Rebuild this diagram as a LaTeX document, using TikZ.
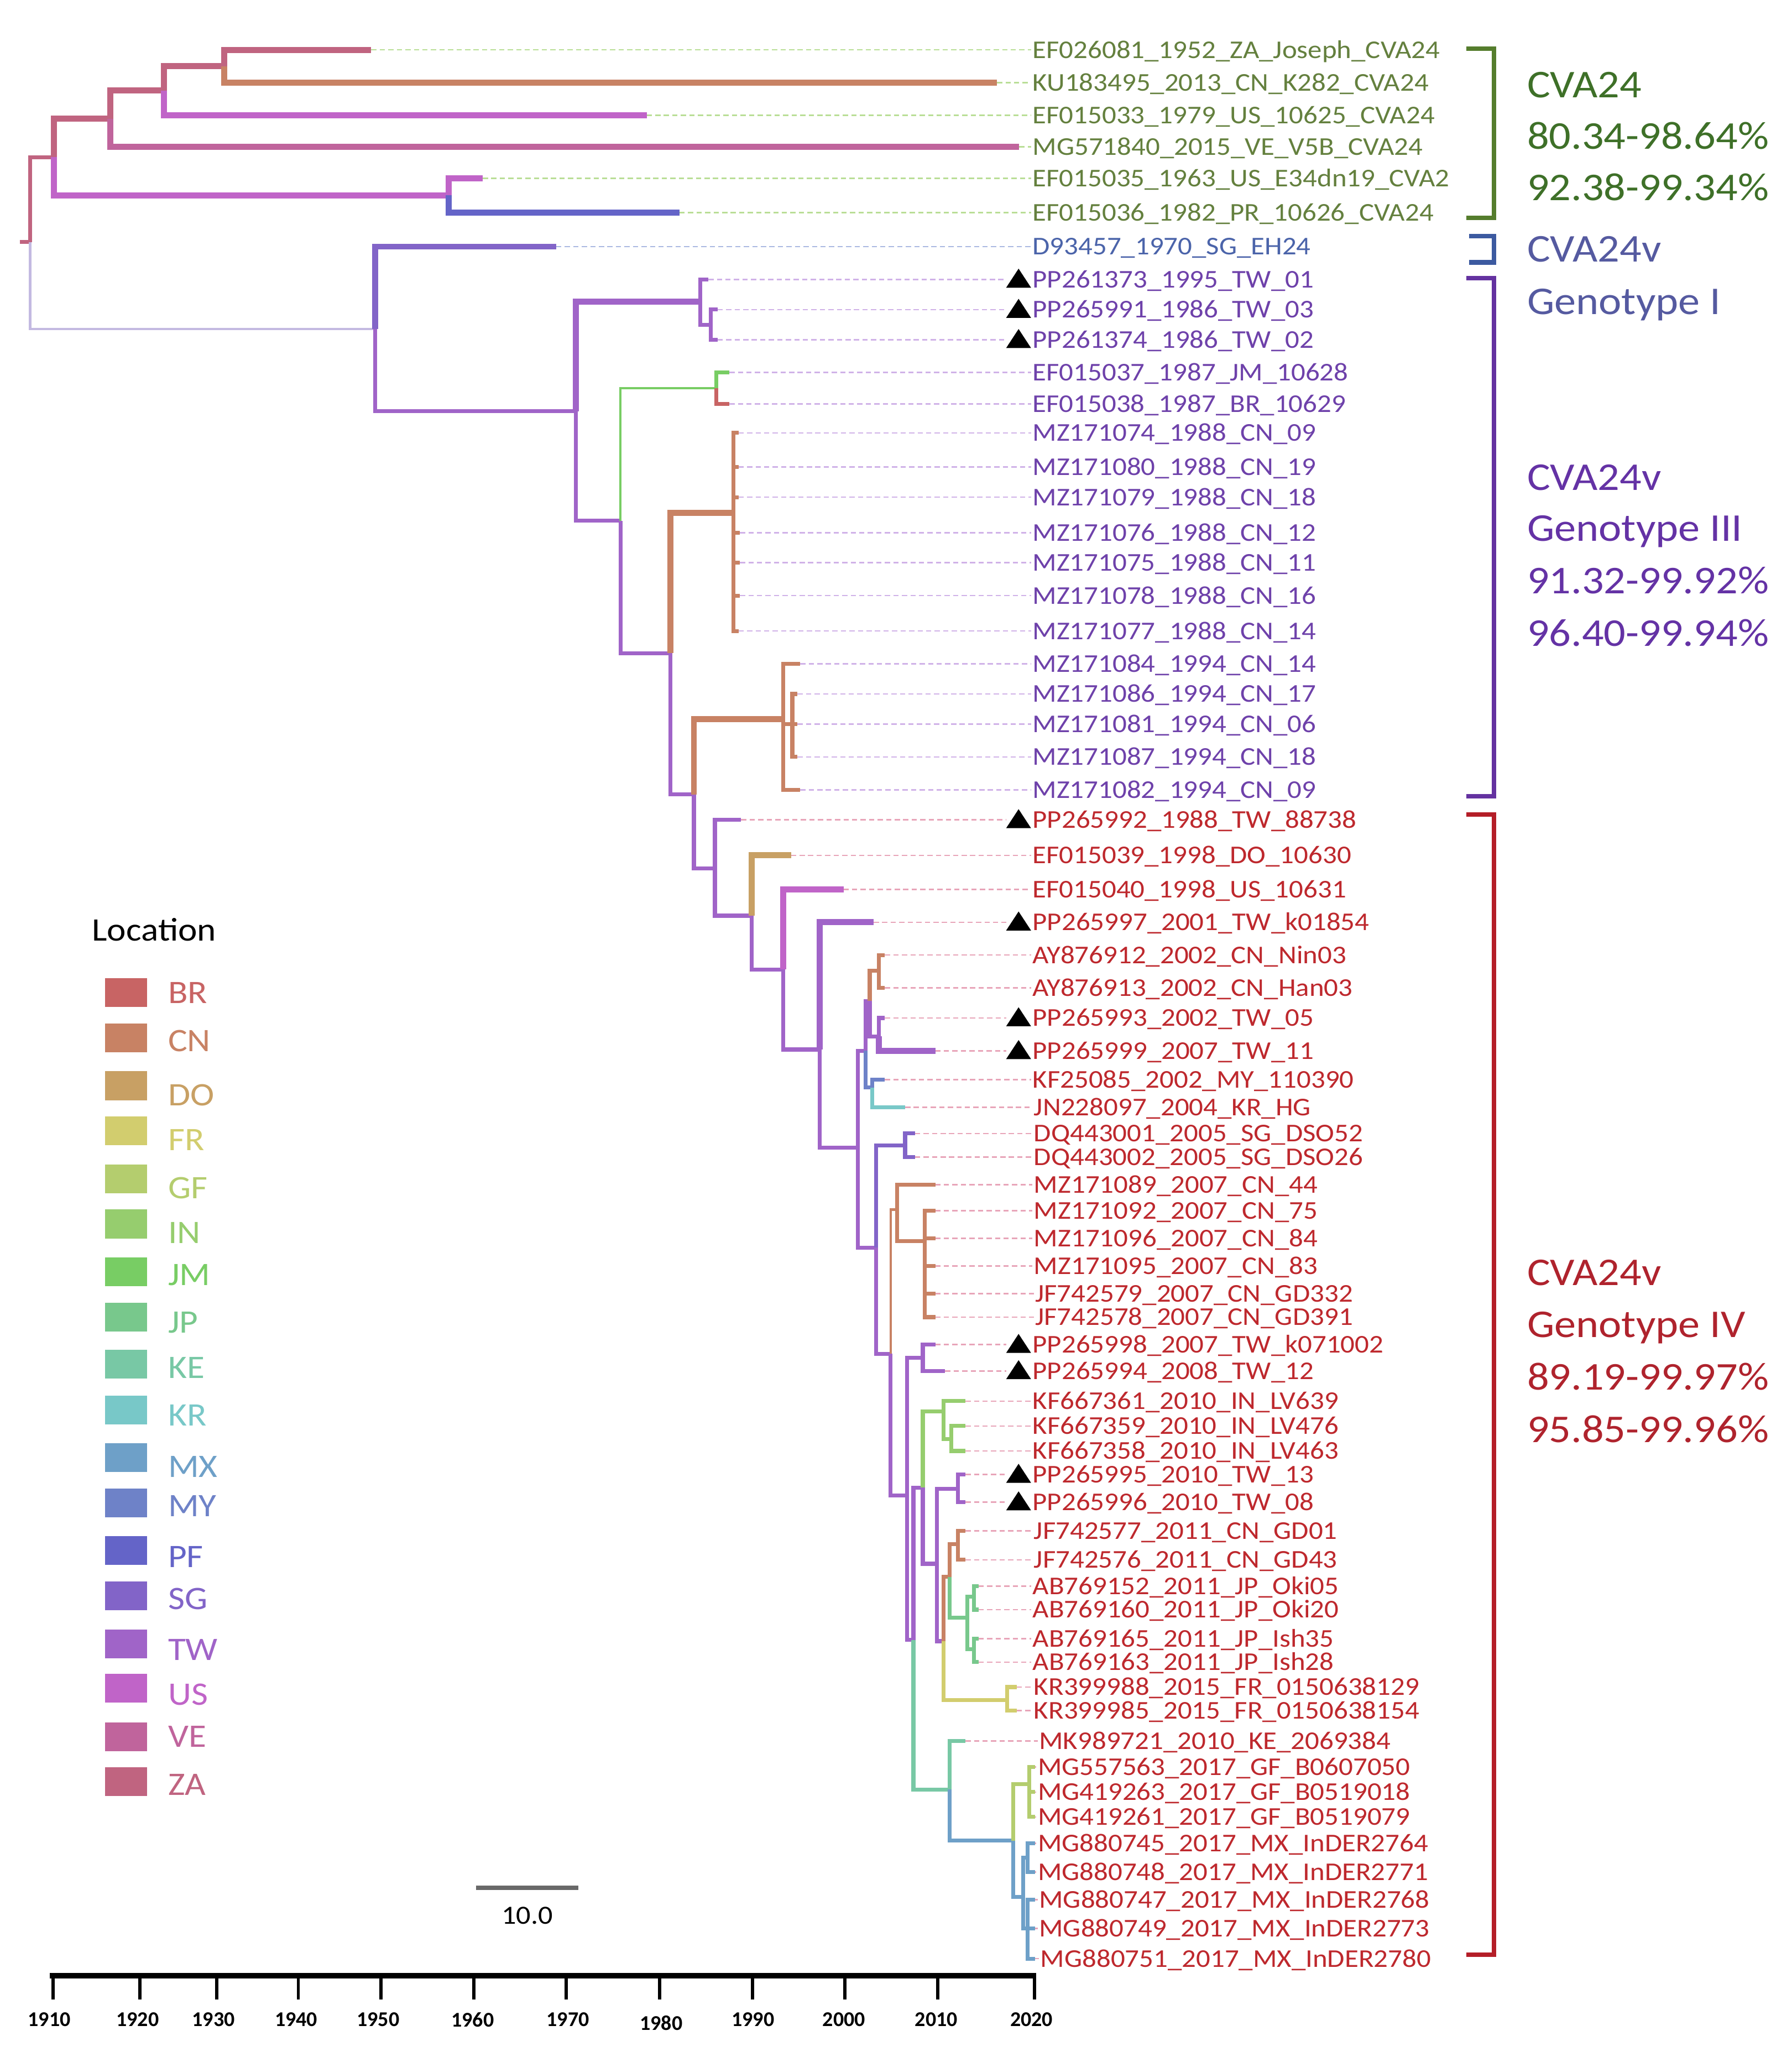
\documentclass[tikz,border=0pt]{standalone}
\usepackage{fontspec}
\setmainfont{Carlito}
\newfontfamily\lf[FakeStretch=1.1]{Carlito}
\newfontfamily\af{Carlito}
\definecolor{cBR}{RGB}{200,100,100}
\definecolor{cCN}{RGB}{200,130,100}
\definecolor{cDO}{RGB}{200,160,100}
\definecolor{cFR}{RGB}{210,205,110}
\definecolor{cGF}{RGB}{180,205,110}
\definecolor{cIN}{RGB}{150,205,110}
\definecolor{cJM}{RGB}{120,205,100}
\definecolor{cJP}{RGB}{120,200,140}
\definecolor{cKE}{RGB}{120,200,165}
\definecolor{cKR}{RGB}{120,200,200}
\definecolor{cMX}{RGB}{110,160,200}
\definecolor{cMY}{RGB}{110,130,200}
\definecolor{cPF}{RGB}{100,100,200}
\definecolor{cSG}{RGB}{130,100,200}
\definecolor{cTW}{RGB}{160,100,200}
\definecolor{cUS}{RGB}{192,100,200}
\definecolor{cVE}{RGB}{192,100,156}
\definecolor{cZA}{RGB}{192,100,128}
\definecolor{cRT}{RGB}{195,185,225}
\definecolor{labA}{RGB}{100,128,62}
\definecolor{labB}{RGB}{75,100,170}
\definecolor{labC}{RGB}{110,65,170}
\definecolor{labD}{RGB}{190,40,45}
\definecolor{leadA}{RGB}{185,222,150}
\definecolor{leadB}{RGB}{170,185,225}
\definecolor{leadC}{RGB}{208,178,232}
\definecolor{leadD}{RGB}{232,165,185}
\definecolor{grA}{RGB}{62,112,40}
\definecolor{grB}{RGB}{85,90,160}
\definecolor{grC}{RGB}{100,50,165}
\definecolor{grD}{RGB}{175,35,45}
\definecolor{bkA}{RGB}{85,125,45}
\definecolor{bkB}{RGB}{60,90,160}
\definecolor{bkC}{RGB}{100,50,160}
\definecolor{bkD}{RGB}{180,30,40}
\newcommand\edg[4][br]{\draw[#1,draw=#2] (#3) |- (#4);}
\begin{document}
\begin{tikzpicture}[x=1pt,y=-1pt,
  br/.style={line width=3pt},
  bk/.style={line width=4.6pt},
  bt/.style={line width=1.8pt},
  ld/.style={line width=1.1pt,dash pattern=on 4pt off 2.5pt},
  lbl/.style={font=\lf\fontsize{19.5}{22}\selectfont,inner sep=0pt,anchor=base west},
  grp/.style={font=\lf\fontsize{30}{34}\selectfont,inner sep=0pt,anchor=base west},
  leg/.style={font=\lf\fontsize{25}{28}\selectfont,inner sep=0pt,anchor=base west},
  ax/.style={font=\af\bfseries\fontsize{16}{18}\selectfont,inner sep=0pt},
  brk/.style={line width=3.5pt,line join=miter}]
\useasboundingbox (0,0) rectangle (1366,1568);
\fill[white] (0,0) rectangle (1366,1568);

% ---------- leaf labels, tips and leaders ----------
\foreach \i/\tx/\y/\g/\tri/\lx/\txt in {
1/283/38/A/0/787/EF026081\_1952\_ZA\_Joseph\_CVA24,
2/760/63/A/0/787/KU183495\_2013\_CN\_K282\_CVA24,
3/493/88/A/0/787/EF015033\_1979\_US\_10625\_CVA24,
4/777/112/A/0/787/MG571840\_2015\_VE\_V5B\_CVA24,
5/368/136/A/0/787/EF015035\_1963\_US\_E34dn19\_CVA2,
6/518/162/A/0/787/EF015036\_1982\_PR\_10626\_CVA24,
7/424/188/B/0/787/D93457\_1970\_SG\_EH24,
8/540/213/C/1/787/PP261373\_1995\_TW\_01,
9/547/236/C/1/787/PP265991\_1986\_TW\_03,
10/547/259/C/1/787/PP261374\_1986\_TW\_02,
11/556/284/C/0/787/EF015037\_1987\_JM\_10628,
12/556/308/C/0/787/EF015038\_1987\_BR\_10629,
13/563/330/C/0/787/MZ171074\_1988\_CN\_09,
14/563/356/C/0/787/MZ171080\_1988\_CN\_19,
15/563/379/C/0/787/MZ171079\_1988\_CN\_18,
16/564/406/C/0/787/MZ171076\_1988\_CN\_12,
17/564/429/C/0/787/MZ171075\_1988\_CN\_11,
18/564/454/C/0/787/MZ171078\_1988\_CN\_16,
19/563/481/C/0/787/MZ171077\_1988\_CN\_14,
20/610/506/C/0/787/MZ171084\_1994\_CN\_14,
21/608/529/C/0/787/MZ171086\_1994\_CN\_17,
22/608/552/C/0/787/MZ171081\_1994\_CN\_06,
23/608/577/C/0/787/MZ171087\_1994\_CN\_18,
24/610/602/C/0/787/MZ171082\_1994\_CN\_09,
25/565/625/D/1/787/PP265992\_1988\_TW\_88738,
26/603/652/D/0/787/EF015039\_1998\_DO\_10630,
27/643/678/D/0/787/EF015040\_1998\_US\_10631,
28/666/703/D/1/787/PP265997\_2001\_TW\_k01854,
29/674.5/728/D/0/787/AY876912\_2002\_CN\_Nin03,
30/674.5/753/D/0/787/AY876913\_2002\_CN\_Han03,
31/674.5/776/D/1/787/PP265993\_2002\_TW\_05,
32/713/801/D/1/787/PP265999\_2007\_TW\_11,
33/674.5/823/D/0/787/KF25085\_2002\_MY\_110390,
34/690/844/D/0/788/JN228097\_2004\_KR\_HG,
35/697.5/864/D/0/788/DQ443001\_2005\_SG\_DSO52,
36/697.5/882/D/0/788/DQ443002\_2005\_SG\_DSO26,
37/713/903/D/0/788/MZ171089\_2007\_CN\_44,
38/713/923/D/0/788/MZ171092\_2007\_CN\_75,
39/713/944/D/0/788/MZ171096\_2007\_CN\_84,
40/713/965/D/0/788/MZ171095\_2007\_CN\_83,
41/713/986/D/0/789/JF742579\_2007\_CN\_GD332,
42/713/1004/D/0/789/JF742578\_2007\_CN\_GD391,
43/713/1025/D/1/787/PP265998\_2007\_TW\_k071002,
44/720.5/1045/D/1/787/PP265994\_2008\_TW\_12,
45/736/1068/D/0/787/KF667361\_2010\_IN\_LV639,
46/736/1087/D/0/787/KF667359\_2010\_IN\_LV476,
47/736/1106/D/0/787/KF667358\_2010\_IN\_LV463,
48/736/1124/D/1/787/PP265995\_2010\_TW\_13,
49/736/1145/D/1/787/PP265996\_2010\_TW\_08,
50/736/1167/D/0/788/JF742577\_2011\_CN\_GD01,
51/736/1189/D/0/788/JF742576\_2011\_CN\_GD43,
52/746/1209/D/0/787/AB769152\_2011\_JP\_Oki05,
53/746/1227/D/0/787/AB769160\_2011\_JP\_Oki20,
54/746/1249/D/0/787/AB769165\_2011\_JP\_Ish35,
55/746/1267/D/0/787/AB769163\_2011\_JP\_Ish28,
56/775/1286/D/0/788/KR399988\_2015\_FR\_0150638129,
57/775/1304/D/0/788/KR399985\_2015\_FR\_0150638154,
58/736/1327/D/0/792/MK989721\_2010\_KE\_2069384,
59/789/1347/D/0/791/MG557563\_2017\_GF\_B0607050,
60/789/1366/D/0/791/MG419263\_2017\_GF\_B0519018,
61/789/1385/D/0/791/MG419261\_2017\_GF\_B0519079,
62/789/1405/D/0/791/MG880745\_2017\_MX\_InDER2764,
63/789/1427/D/0/791/MG880748\_2017\_MX\_InDER2771,
64/789/1448/D/0/792/MG880747\_2017\_MX\_InDER2768,
65/789/1470/D/0/792/MG880749\_2017\_MX\_InDER2773,
66/789/1493/D/0/793/MG880751\_2017\_MX\_InDER2780}
{
  \node[lbl,text=lab\g] (L\i) at (\lx,\y+6.3) {\txt};
  \coordinate (T\i) at (\tx,\y);
  \ifnum\tri=1
    \fill[black] (L\i.base west) ++(-1,0) -- ++(-19,0) -- ++(9.5,-14.5) -- cycle;
    \coordinate (E\i) at (\lx-20,\y);
  \else
    \coordinate (E\i) at (\lx-1,\y);
  \fi
  \draw[ld,draw=lead\g] (T\i) -- (E\i);
}

% ---------- internal nodes ----------
\coordinate (R0) at (15,184.5);
\coordinate (R) at (23,184.5);
\coordinate (N1) at (41,119.75);
\coordinate (N2) at (84,90.5);
\coordinate (N3) at (125,69);
\coordinate (N4) at (171,50.5);
\coordinate (N6) at (342,149);
\coordinate (N7) at (286,250.75);
\coordinate (N8) at (439,313.5);
\coordinate (G1) at (534,230);
\coordinate (G1b) at (542,247.5);
\coordinate (G3) at (473,397);
\coordinate (JB) at (546,296);
\coordinate (G4) at (511,498);
\coordinate (C88) at (559,391);
\coordinate (G5) at (529,605.5);
\coordinate (C94) at (597,548);
\coordinate (S94) at (604,552);
\coordinate (G6) at (545,662);
\coordinate (G7) at (573,698);
\coordinate (G8) at (597,739);
\coordinate (G9) at (625,800);
\coordinate (G10) at (654,875);
\coordinate (G11) at (660,801);
\coordinate (G12) at (663,763);
\coordinate (G12a) at (670,740);
\coordinate (G12b) at (670,790);
\coordinate (G13) at (665,829);
\coordinate (G14) at (668,951);
\coordinate (SGn) at (690,873);
\coordinate (G15) at (679,1032);
\coordinate (C07) at (684,922);
\coordinate (C07b) at (705,946);
\coordinate (G16) at (691.4,1140);
\coordinate (G17) at (703.5,1035);
\coordinate (G18) at (696.3,1250);
\coordinate (G19) at (703.5,1134);
\coordinate (INn) at (719.3,1076);
\coordinate (INb) at (725.3,1097);
\coordinate (G20) at (714.4,1192);
\coordinate (TW2) at (730.2,1135);
\coordinate (G21) at (719.3,1251);
\coordinate (FRn) at (767.7,1296);
\coordinate (G22) at (724.1,1202);
\coordinate (C11) at (730.2,1177);
\coordinate (JPn) at (737.4,1233);
\coordinate (JPa) at (742.3,1217);
\coordinate (JPb) at (742.3,1257);
\coordinate (GKE) at (724.1,1364);
\coordinate (G23) at (772.5,1403);
\coordinate (GFn) at (784.6,1360);
\coordinate (MXn) at (779.8,1446);
\coordinate (MXa) at (783.5,1416);
\coordinate (MXb) at (783.5,1470);

% ---------- branches ----------
\draw[br,draw=cZA] (R0) -- (R);
\edg{cZA}{R}{N1}
\edg[bt]{cRT}{R}{N7}
\edg[bk]{cZA}{N1}{N2}
\edg[bk]{cUS}{N1}{N6}
\edg[bk]{cZA}{N2}{N3}
\edg[bk]{cVE}{N2}{T4}
\edg[bk]{cZA}{N3}{N4}
\edg[bk]{cUS}{N3}{T3}
\edg[bk]{cZA}{N4}{T1}
\edg[bk]{cCN}{N4}{T2}
\edg[bk]{cUS}{N6}{T5}
\edg[bk]{cPF}{N6}{T6}
\edg[bk]{cSG}{N7}{T7}
\edg{cTW}{N7}{N8}
\edg[bk]{cTW}{N8}{G1}
\edg{cTW}{N8}{G3}
\edg{cTW}{G1}{T8}
\edg{cTW}{G1}{G1b}
\edg{cTW}{G1b}{T9}
\edg{cTW}{G1b}{T10}
\edg[bt]{cJM}{G3}{JB}
\edg{cTW}{G3}{G4}
\edg{cJM}{JB}{T11}
\edg{cBR}{JB}{T12}
\edg[bk]{cCN}{G4}{C88}
\edg{cTW}{G4}{G5}
\foreach \k in {13,...,19} {\edg{cCN}{C88}{T\k}}
\edg[bk]{cCN}{G5}{C94}
\edg{cTW}{G5}{G6}
\edg{cCN}{C94}{T20}
\edg{cCN}{C94}{S94}
\edg{cCN}{C94}{T24}
\foreach \k in {21,22,23} {\edg{cCN}{S94}{T\k}}
\edg{cTW}{G6}{T25}
\edg{cTW}{G6}{G7}
\edg[bk]{cDO}{G7}{T26}
\edg{cTW}{G7}{G8}
\edg[bk]{cUS}{G8}{T27}
\edg{cTW}{G8}{G9}
\edg[bk]{cTW}{G9}{T28}
\edg{cTW}{G9}{G10}
\edg{cTW}{G10}{G11}
\edg{cTW}{G10}{G14}
\edg{cTW}{G11}{G12}
\edg{cMY}{G11}{G13}
\edg{cCN}{G12}{G12a}
\edg{cTW}{G12}{G12b}
\edg{cCN}{G12a}{T29}
\edg{cCN}{G12a}{T30}
\edg{cTW}{G12b}{T31}
\edg[bk]{cTW}{G12b}{T32}
\edg{cMY}{G13}{T33}
\edg{cKR}{G13}{T34}
\edg{cSG}{G14}{SGn}
\edg{cTW}{G14}{G15}
\edg{cSG}{SGn}{T35}
\edg{cSG}{SGn}{T36}
\edg[bt]{cCN}{G15}{C07}
\edg{cTW}{G15}{G16}
\edg{cCN}{C07}{T37}
\edg{cCN}{C07}{C07b}
\foreach \k in {38,...,42} {\edg{cCN}{C07b}{T\k}}
\edg{cTW}{G16}{G17}
\edg{cTW}{G16}{G18}
\edg{cTW}{G17}{T43}
\edg{cTW}{G17}{T44}
\edg{cTW}{G18}{G19}
\edg{cKE}{G18}{GKE}
\edg{cIN}{G19}{INn}
\edg{cTW}{G19}{G20}
\edg{cIN}{INn}{T45}
\edg{cIN}{INn}{INb}
\edg{cIN}{INb}{T46}
\edg{cIN}{INb}{T47}
\edg{cTW}{G20}{TW2}
\edg{cTW}{G20}{G21}
\edg{cTW}{TW2}{T48}
\edg{cTW}{TW2}{T49}
\edg{cCN}{G21}{G22}
\edg{cFR}{G21}{FRn}
\edg{cFR}{FRn}{T56}
\edg{cFR}{FRn}{T57}
\edg{cCN}{G22}{C11}
\edg{cJP}{G22}{JPn}
\edg{cCN}{C11}{T50}
\edg{cCN}{C11}{T51}
\edg{cJP}{JPn}{JPa}
\edg{cJP}{JPn}{JPb}
\edg{cJP}{JPa}{T52}
\edg{cJP}{JPa}{T53}
\edg{cJP}{JPb}{T54}
\edg{cJP}{JPb}{T55}
\edg{cKE}{GKE}{T58}
\edg{cMX}{GKE}{G23}
\edg{cGF}{G23}{GFn}
\edg{cMX}{G23}{MXn}
\edg{cGF}{GFn}{T59}
\edg{cGF}{GFn}{T60}
\edg{cGF}{GFn}{T61}
\edg{cMX}{MXn}{MXa}
\edg{cMX}{MXn}{MXb}
\edg{cMX}{MXa}{T62}
\edg{cMX}{MXa}{T63}
\edg{cMX}{MXb}{T64}
\edg{cMX}{MXb}{T65}
\edg{cMX}{MXb}{T66}

% ---------- clade brackets ----------
\draw[brk,draw=bkA] (1118,37) -- (1139,37) -- (1139,166) -- (1118,166);
\draw[brk,draw=bkB] (1120,180) -- (1139,180) -- (1139,200) -- (1120,200);
\draw[brk,draw=bkC] (1118,212) -- (1139,212) -- (1139,607) -- (1118,607);
\draw[brk,draw=bkD] (1118,621) -- (1139,621) -- (1139,1490) -- (1118,1490);

% ---------- clade texts ----------
\node[grp,text=grA] (ga1) at (1164,65+9.6) {CVA24};
\node[grp,text=grA] (ga2) at (1164,104+9.6) {80.34-98.64\%};
\node[grp,text=grA] (ga3) at (1164,143+9.6) {92.38-99.34\%};
\node[grp,text=grB] (gb1) at (1164,190+9.6) {CVA24v};
\node[grp,text=grB] (gb2) at (1164,230+9.6) {Genotype I};
\node[grp,text=grC] (gc1) at (1164,364+9.6) {CVA24v};
\node[grp,text=grC] (gc2) at (1164,403+9.6) {Genotype III};
\node[grp,text=grC] (gc3) at (1164,443+9.6) {91.32-99.92\%};
\node[grp,text=grC] (gc4) at (1164,483+9.6) {96.40-99.94\%};
\node[grp,text=grD] (gd1) at (1164,970+9.6) {CVA24v};
\node[grp,text=grD] (gd2) at (1164,1010+9.6) {Genotype IV};
\node[grp,text=grD] (gd3) at (1164,1050+9.6) {89.19-99.97\%};
\node[grp,text=grD] (gd4) at (1164,1090+9.6) {95.85-99.96\%};

% ---------- legend ----------
\node[leg,text=black] (loc) at (70,709+8) {Location};
\foreach \c/\yr/\yl in {BR/756.5/757,CN/791/793.5,DO/827.6/834.6,FR/862/869,GF/898.5/905.4,IN/933/939.7,JM/969.5/971.8,JP/1004/1008,KE/1040/1042.6,KR/1074.7/1079,MX/1111/1118,MY/1145.5/1147.8,PF/1182/1186.6,SG/1216.4/1218.6,TW/1253/1257.5,US/1287/1291.7,VE/1323.8/1323.8,ZA/1358/1360.5}
{
  \fill[fill=c\c] (80,\yr-11) rectangle (112,\yr+11);
  \node[leg,text=c\c] (leg\c) at (128,\yl+8) {\c};
}

% ---------- scale bar ----------
\coordinate (sb0) at (363,1439);
\coordinate (sb1) at (441,1439);
\draw[line width=3pt,draw={rgb,255:red,105;green,105;blue,105}] (sb0) -- (sb1);
\node[font=\lf\fontsize{20}{22}\selectfont,inner sep=0pt] (sbl) at (402,1460) {10.0};

% ---------- time axis ----------
\coordinate (ax0) at (38,1506);
\coordinate (ax1) at (790,1506);
\draw[line width=4.5pt] (ax0) -- (ax1);
\foreach \yr/\xt/\xl/\yl in {1910/40.3/37.6/1539.5,1920/106.5/104.9/1539.5,1930/165.1/162.7/1539.5,1940/227.4/225.8/1539.5,1950/290.4/288.2/1539.5,1960/361.3/360.3/1539.5,1970/431.7/432.9/1539.5,1980/502.8/504.1/1542,1990/573.8/574/1539.5,2000/644.2/643.4/1539.5,2010/715/713.8/1539.5,2020/788.8/786.4/1539.5}
{
  \draw[line width=2.5pt] (\xt,1506) -- (\xt,1524);
  \node[ax] (yr\yr) at (\xl,\yl) {\yr};
}
\end{tikzpicture}
\end{document}
